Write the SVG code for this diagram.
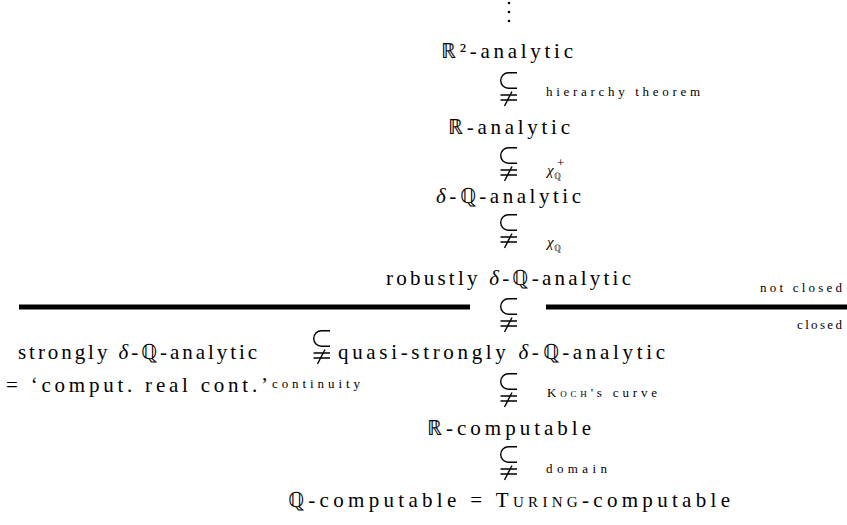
<svg xmlns="http://www.w3.org/2000/svg" width="847" height="525" viewBox="0 0 847 525">
<style>
  .t { font-family: "Liberation Serif", serif; font-size: 21px; fill: #000; }
  .s { font-family: "Liberation Serif", serif; font-size: 13px; fill: #000; }
  .it { font-style: italic; }
  .sc { font-variant: small-caps; }
  .rel { fill: none; stroke: #000; stroke-width: 1.4; }
  .bar { stroke: #000; stroke-width: 5; }
  .dot { fill: #000; }
</style>
<defs>
  <g id="subneq">
    <path class="rel" d="M17,0.7 H8.5 A7.8,7.8 0 0 0 8.5,16.3 H17"/>
    <path class="rel" d="M0.5,23 H17 M0.5,28 H17"/>
    <path class="rel" d="M4.5,34 L12,19.5"/>
  </g>
</defs>
<rect width="847" height="525" fill="#fff"/>

<g id="dots">
  <circle class="dot" cx="509" cy="3" r="1.3"/>
  <circle class="dot" cx="509" cy="12" r="1.3"/>
  <circle class="dot" cx="509" cy="21" r="1.3"/>
</g>

<g id="divider">
  <line class="bar" x1="19" y1="307" x2="470" y2="307"/>
  <line class="bar" x1="546" y1="307" x2="847" y2="307"/>
  <text class="s" x="760" y="292" textLength="82" lengthAdjust="spacing">not closed</text>
  <text class="s" x="797" y="329" textLength="45" lengthAdjust="spacing">closed</text>
</g>

<g id="n-r2-analytic"><text class="t" x="441" y="58" textLength="132" lengthAdjust="spacing">ℝ²-analytic</text></g>
<g id="n-r-analytic"><text class="t" x="448" y="134" textLength="122" lengthAdjust="spacing">ℝ-analytic</text></g>
<g id="n-dq-analytic"><text class="t" x="436" y="203" textLength="145" lengthAdjust="spacing"><tspan class="it">δ</tspan>-ℚ-analytic</text></g>
<g id="n-robustly"><text class="t" x="386" y="285" textLength="245" lengthAdjust="spacing">robustly <tspan class="it">δ</tspan>-ℚ-analytic</text></g>
<g id="n-strongly">
  <text class="t" x="18" y="359" textLength="239" lengthAdjust="spacing">strongly <tspan class="it">δ</tspan>-ℚ-analytic</text>
  <text class="t" x="6" y="392" textLength="262" lengthAdjust="spacing">= ‘comput. real cont.’</text>
</g>
<g id="n-quasi"><text class="t" x="338" y="359" textLength="327" lengthAdjust="spacing">quasi-strongly <tspan class="it">δ</tspan>-ℚ-analytic</text></g>
<g id="n-r-computable"><text class="t" x="427" y="435" textLength="164" lengthAdjust="spacing">ℝ-computable</text></g>
<g id="n-q-computable"><text class="t" x="288" y="507" textLength="442" lengthAdjust="spacing">ℚ-computable = <tspan class="sc">Turing</tspan>-computable</text></g>

<g id="connectors">
  <use href="#subneq" x="500" y="72"/>
  <use href="#subneq" x="500" y="147"/>
  <use href="#subneq" x="500" y="214"/>
  <use href="#subneq" x="500" y="298"/>
  <use href="#subneq" x="313" y="330"/>
  <use href="#subneq" x="500" y="373"/>
  <use href="#subneq" x="500" y="446"/>

  <text class="s" x="546" y="96" textLength="154" lengthAdjust="spacing">hierarchy theorem</text>
  <text class="s" x="547" y="175"><tspan class="it" font-size="15">χ</tspan><tspan font-size="9" dy="4">ℚ</tspan></text>
  <text class="s" x="557" y="167" font-size="14">+</text>
  <text class="s" x="547" y="247"><tspan class="it" font-size="15">χ</tspan><tspan font-size="9" dy="4">ℚ</tspan></text>
  <text class="s" x="272" y="388" textLength="88" lengthAdjust="spacing">continuity</text>
  <text class="s" x="547" y="397" textLength="110" lengthAdjust="spacing"><tspan class="sc">Koch</tspan>'s curve</text>
  <text class="s" x="546" y="473" textLength="61" lengthAdjust="spacing">domain</text>
</g>
</svg>
